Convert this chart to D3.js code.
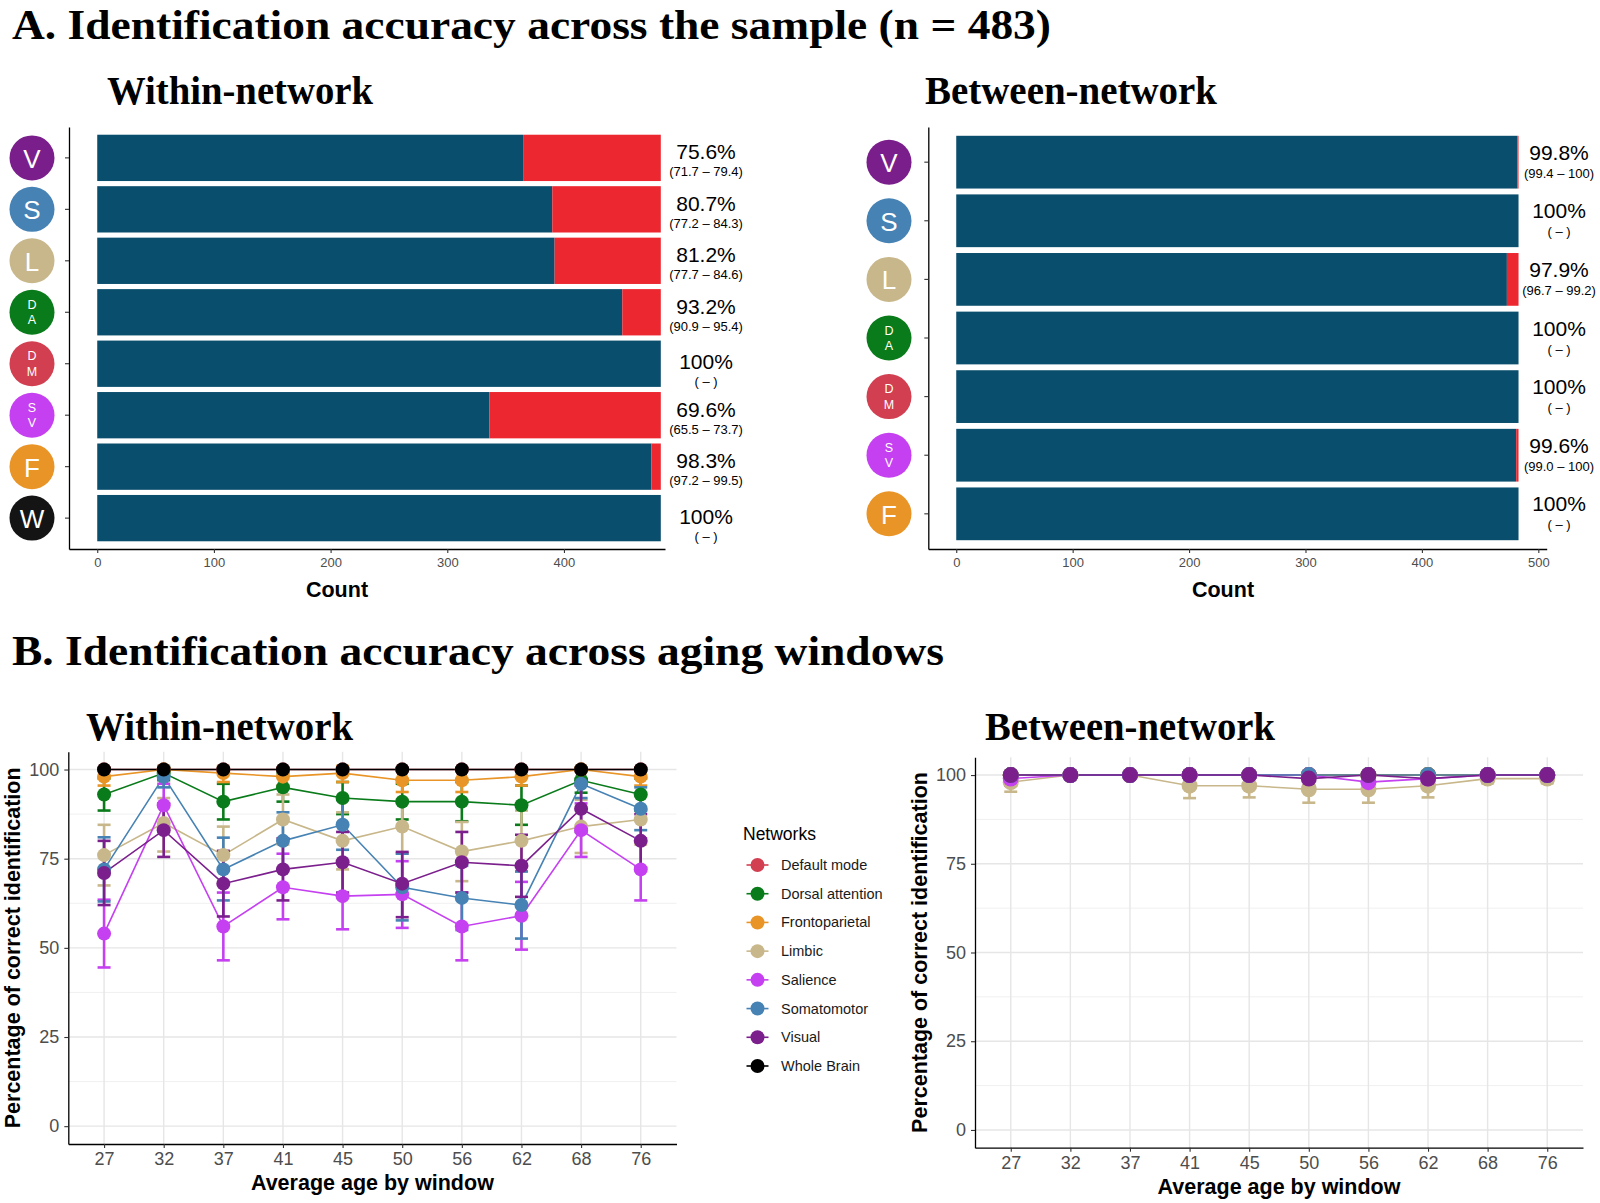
<!DOCTYPE html>
<html><head><meta charset="utf-8">
<script src="https://cdn.jsdelivr.net/npm/d3@7"></script>
<style>body{margin:0;background:#fff}svg{display:block}</style>
</head><body>
<svg id="c" width="1600" height="1203"></svg>
<script>
// ---------------- DATA ----------------
const sampleN = 483;
const withinCodes = ["V","S","L","DA","DM","SV","F","W"];
const withinCorrect = [365,390,392,450,483,336,475,483];
const withinPct = ["75.6%","80.7%","81.2%","93.2%","100%","69.6%","98.3%","100%"];
const withinCI = ["(71.7 – 79.4)","(77.2 – 84.3)","(77.7 – 84.6)","(90.9 – 95.4)","( – )","(65.5 – 73.7)","(97.2 – 99.5)","( – )"];
const betweenCodes = ["V","S","L","DA","DM","SV","F"];
const betweenCorrect = [482,483,473,483,483,481,483];
const betweenPct = ["99.8%","100%","97.9%","100%","100%","99.6%","100%"];
const betweenCI = ["(99.4 – 100)","( – )","(96.7 – 99.2)","( – )","( – )","(99.0 – 100)","( – )"];
const countTicksLeft = [0,100,200,300,400];
const countTicksRight = [0,100,200,300,400,500];

const ageWindows = ["27","32","37","41","45","50","56","62","68","76"];
const pctTicks = [0,25,50,75,100];
const pctMinor = [12.5,37.5,62.5,87.5];
const networkNames = ["Default mode","Dorsal attention","Frontoparietal","Limbic","Salience","Somatomotor","Visual","Whole Brain"];

// within-network, per window: mean, lower, upper
const wDefault   = [100,100,100,100,100,100,100,100,100,100];
const wDefaultLo = [100,100,100,100,100,100,100,100,100,100];
const wDefaultHi = [100,100,100,100,100,100,100,100,100,100];
const wDorsal    = [93,99,91,95,92,91,91,90,97,93];
const wDorsalLo  = [88.5,97,86,91,87.5,86,85.5,84.5,93.5,88.5];
const wDorsalHi  = [97.5,100.5,96,99,96.5,96,96.5,95.5,100.5,97.5];
const wFronto    = [98,100,99,98,99,97,97,98,100,98];
const wFrontoLo  = [95.5,100,96.5,95.5,96.5,93.7,93.7,95.5,100,95.5];
const wFrontoHi  = [100.5,100,101,100.5,101,100.3,100.3,100.5,100,100.5];
const wLimbic    = [76,85,76,86,80,84,77,80,84,86];
const wLimbicLo  = [67.5,77,68,79,72,76.5,68.7,71.5,76.6,79];
const wLimbicHi  = [84.5,92,84,93,88,91.5,85.3,88.5,91.5,93];
const wSalience  = [54,90,56,67,64.5,65,56,59,83,72];
const wSalienceLo= [44.5,84,46.5,58,55.2,55.6,46.5,49.5,75.5,63.3];
const wSalienceHi= [63.5,96,65.5,76.4,73.8,74.3,65.5,68.5,90.5,80.7];
const wSomato    = [72,98,72,80,84.5,67,64,62,96,89];
const wSomatoLo  = [63,95,63.3,72,77.5,57.7,55,52.6,92,83];
const wSomatoHi  = [81,101,80.9,88,91.5,76.4,73,71.4,100,95];
const wVisual    = [71,83,68,72,74,68,74,73,89,80];
const wVisualLo  = [62,75.5,58.8,63.3,65.5,58.6,65.5,64.3,82.5,72.5];
const wVisualHi  = [80,90.5,77.2,80.7,82.5,76.9,82.5,81.7,95.5,87.5];
const wWhole     = [100,100,100,100,100,100,100,100,100,100];
const wWholeLo   = [100,100,100,100,100,100,100,100,100,100];
const wWholeHi   = [100,100,100,100,100,100,100,100,100,100];

// between-network
const bDefault   = [100,100,100,100,100,100,100,100,100,100];
const bDorsal    = [100,100,100,100,100,100,100,100,100,100];
const bFronto    = [100,100,100,100,100,100,100,100,100,100];
const bLimbic    = [98,100,100,97,97,96,96,97,99,99];
const bLimbicLo  = [95.3,100,100,93.5,93.7,92.2,92.2,93.7,97.7,97.7];
const bLimbicHi  = [100.7,100,100,100.5,100.3,99.8,99.8,100.3,100.3,100.3];
const bSalience  = [99,100,100,100,100,100,98,99,100,100];
const bSalienceLo= [97,100,100,100,100,100,95.5,97,100,100];
const bSalienceHi= [101,100,100,100,100,100,100.5,101,100,100];
const bSomato    = [100,100,100,100,100,100,100,100,100,100];
const bVisual    = [100,100,100,100,100,99,100,99,100,100];
const bVisualLo  = [100,100,100,100,100,97,100,97,100,100];
const bVisualHi  = [100,100,100,100,100,101,100,101,100,100];

// ---------------- STYLE ----------------
const NAVY = "#0a4e6d", RED = "#ed2730";
const codeColor = {V:"#7a1e8c",S:"#4682b4",L:"#c8b78a",DA:"#0a7b1a",DM:"#d13f50",SV:"#c540f0",F:"#e99426",W:"#141414"};
const netColor = ["#d13f50","#0a7b1a","#e99426","#c8b78a","#c540f0","#4682b4","#7b1f8d","#000000"];
const SERIF = '"Liberation Serif","Times New Roman",Times,serif';
const SANS = '"Liberation Sans",Arial,Helvetica,sans-serif';

const svg = d3.select("#c").style("font-family",SANS);
svg.append("rect").attr("width",1600).attr("height",1203).attr("fill","#fff");

function title(txt, x, y, size, len){
  svg.append("text").attr("x",x).attr("y",y).style("font-family",SERIF).attr("font-weight","bold")
    .attr("font-size",size).attr("textLength",len).attr("lengthAdjust","spacingAndGlyphs").attr("fill","#000").text(txt);
}
title("A. Identification accuracy across the sample (n = 483)",12,38.5,43,1039);
title("Within-network",107,104,40,266);
title("Between-network",925,104,40,292);
title("B. Identification accuracy across aging windows",12,664.5,43,932);
title("Within-network",86,740,40,267);
title("Between-network",985,740,40,290);

function styleAxis(g, fs){
  g.attr("font-family",null);
  g.select(".domain").attr("stroke","#000").attr("stroke-width",1.3);
  g.selectAll(".tick line").attr("stroke","#333").attr("stroke-width",1.1);
  g.selectAll(".tick text").attr("fill","#4d4d4d").attr("font-size",fs).style("font-family",SANS);
}

function barPanel(cfg){
  const g = svg.append("g");
  const y = d3.scaleBand().domain(cfg.codes).range([127,549]).paddingInner(0.1).paddingOuter(0.15);
  const x = d3.scaleLinear().domain(cfg.xDomain).range(cfg.xRange);
  const bw = y.bandwidth();
  g.selectAll("rect.ok").data(cfg.codes).join("rect").attr("class","ok")
    .attr("x",x(0)).attr("y",d=>y(d)).attr("height",bw)
    .attr("width",(d,i)=>x(cfg.correct[i])-x(0)).attr("fill",NAVY);
  g.selectAll("rect.bad").data(cfg.codes).join("rect").attr("class","bad")
    .attr("x",(d,i)=>x(cfg.correct[i])).attr("y",d=>y(d)).attr("height",bw)
    .attr("width",(d,i)=>x(sampleN)-x(cfg.correct[i])).attr("fill",RED);
  const ax = g.append("g").attr("transform","translate(0,549)")
    .call(d3.axisBottom(x).tickValues(cfg.ticks).tickSize(4).tickSizeOuter(0).tickPadding(5));
  styleAxis(ax,13);
  const ay = g.append("g").attr("transform",`translate(${cfg.xRange[0]},0)`)
    .call(d3.axisLeft(y).tickSize(4).tickSizeOuter(0).tickFormat(""));
  styleAxis(ay,13);
  cfg.codes.forEach((c,i)=>{
    const cy = y(c)+bw/2;
    const bg = g.append("g").attr("transform",`translate(${cfg.circleX},${cy})`);
    bg.append("circle").attr("r",22.5).attr("fill",codeColor[c]);
    if(c.length===1){
      bg.append("text").attr("text-anchor","middle").attr("dominant-baseline","central").attr("y",1)
        .attr("fill","#fff").attr("font-size",26).text(c);
    } else {
      c.split("").forEach((ch,k)=>{
        bg.append("text").attr("text-anchor","middle").attr("dominant-baseline","central")
          .attr("y",k===0?-7.5:8).attr("fill","#fff").attr("font-size",12.5).text(ch);
      });
    }
    const dash = cfg.ci[i]==="( – )";
    const o = cfg.offsets(dash);
    g.append("text").attr("x",cfg.labelX).attr("y",cy+o[0]).attr("text-anchor","middle")
      .attr("dominant-baseline","central").attr("font-size",21).attr("fill","#000").text(cfg.pct[i]);
    g.append("text").attr("x",cfg.labelX).attr("y",cy+o[1]).attr("text-anchor","middle")
      .attr("dominant-baseline","central").attr("font-size",13).attr("fill","#000").text(cfg.ci[i]);
  });
  g.append("text").attr("x",cfg.countX).attr("y",590).attr("text-anchor","middle").attr("dominant-baseline","central")
    .attr("font-weight","bold").attr("font-size",21.5).attr("fill","#000").text("Count");
}

barPanel({codes:withinCodes, correct:withinCorrect, pct:withinPct, ci:withinCI,
  xDomain:[-24.2,486.6], xRange:[69,665], ticks:countTicksLeft, circleX:32, labelX:706, countX:337,
  offsets:d=>d?[-2,18]:[-6,14]});
barPanel({codes:betweenCodes, correct:betweenCorrect, pct:betweenPct, ci:betweenCI,
  xDomain:[-24,507.2], xRange:[928.3,1546.7], ticks:countTicksRight, circleX:889, labelX:1559, countX:1223,
  offsets:d=>[-10,11]});

function linePanel(cfg){
  const g = svg.append("g");
  const x = d3.scalePoint().domain(ageWindows).range(cfg.xRange).padding(0.6);
  const y = d3.scaleLinear().domain([-5,105]).range(cfg.yRange);
  const [x0,x1] = cfg.xRange, [yb,yt] = cfg.yRange;
  g.selectAll("line.mn").data(pctMinor).join("line").attr("x1",x0).attr("x2",x1)
    .attr("y1",d=>y(d)).attr("y2",d=>y(d)).attr("stroke","#f0f0f0").attr("stroke-width",1);
  g.selectAll("line.mj").data(pctTicks).join("line").attr("x1",x0).attr("x2",x1)
    .attr("y1",d=>y(d)).attr("y2",d=>y(d)).attr("stroke","#e6e6e6").attr("stroke-width",1.4);
  g.selectAll("line.vg").data(ageWindows).join("line").attr("x1",d=>x(d)).attr("x2",d=>x(d))
    .attr("y1",yt).attr("y2",yb).attr("stroke","#e6e6e6").attr("stroke-width",1.4);
  const ax = g.append("g").attr("transform",`translate(0,${yb})`)
    .call(d3.axisBottom(x).tickSize(4).tickSizeOuter(0).tickPadding(4.5));
  styleAxis(ax,18);
  const ay = g.append("g").attr("transform",`translate(${x0},0)`)
    .call(d3.axisLeft(y).tickValues(pctTicks).tickSize(4).tickSizeOuter(0).tickPadding(5));
  styleAxis(ay,18);
  const line = d3.line().x((d,i)=>x(ageWindows[i])).y(d=>y(d));
  cfg.series.forEach(s=>{
    g.append("path").attr("d",line(s.mean)).attr("fill","none").attr("stroke",s.color).attr("stroke-width",1.6);
  });
  cfg.series.forEach(s=>{
    s.mean.forEach((m,i)=>{
      const cx = x(ageWindows[i]);
      if(s.hi[i]-s.lo[i] <= 0) return;
      g.append("line").attr("x1",cx).attr("x2",cx).attr("y1",y(s.lo[i])).attr("y2",y(s.hi[i]))
        .attr("stroke",s.color).attr("stroke-width",2.6);
      [s.lo[i],s.hi[i]].forEach(v=>g.append("line").attr("x1",cx-6.5).attr("x2",cx+6.5)
        .attr("y1",y(v)).attr("y2",y(v)).attr("stroke",s.color).attr("stroke-width",2.6));
    });
  });
  cfg.series.forEach(s=>{
    g.selectAll(null).data(s.mean).join("circle").attr("cx",(d,i)=>x(ageWindows[i])).attr("cy",d=>y(d))
      .attr("r",cfg.r).attr("fill",s.color);
  });
  g.append("text").attr("x",(x0+x1)/2).attr("y",cfg.xTitleY).attr("text-anchor","middle").attr("dominant-baseline","central")
    .attr("font-weight","bold").attr("font-size",21.5).attr("fill","#000").text("Average age by window");
  g.append("text").attr("transform",`translate(${cfg.yTitleX},${(yb+yt)/2}) rotate(-90)`).attr("text-anchor","middle")
    .attr("dominant-baseline","central").attr("font-weight","bold").attr("font-size",21.5).attr("fill","#000")
    .text("Percentage of correct identification");
}

linePanel({xRange:[68.3,676.5], yRange:[1144,751.7], r:7, xTitleY:1183, yTitleX:13, series:[
  {color:netColor[0],mean:wDefault,lo:wDefaultLo,hi:wDefaultHi},
  {color:netColor[1],mean:wDorsal,lo:wDorsalLo,hi:wDorsalHi},
  {color:netColor[2],mean:wFronto,lo:wFrontoLo,hi:wFrontoHi},
  {color:netColor[3],mean:wLimbic,lo:wLimbicLo,hi:wLimbicHi},
  {color:netColor[4],mean:wSalience,lo:wSalienceLo,hi:wSalienceHi},
  {color:netColor[5],mean:wSomato,lo:wSomatoLo,hi:wSomatoHi},
  {color:netColor[6],mean:wVisual,lo:wVisualLo,hi:wVisualHi},
  {color:netColor[7],mean:wWhole,lo:wWholeLo,hi:wWholeHi}]});

linePanel({xRange:[975,1583], yRange:[1147.7,757.3], r:8, xTitleY:1187, yTitleX:920, series:[
  {color:netColor[0],mean:bDefault,lo:bDefault,hi:bDefault},
  {color:netColor[1],mean:bDorsal,lo:bDorsal,hi:bDorsal},
  {color:netColor[2],mean:bFronto,lo:bFronto,hi:bFronto},
  {color:netColor[3],mean:bLimbic,lo:bLimbicLo,hi:bLimbicHi},
  {color:netColor[4],mean:bSalience,lo:bSalienceLo,hi:bSalienceHi},
  {color:netColor[5],mean:bSomato,lo:bSomato,hi:bSomato},
  {color:netColor[6],mean:bVisual,lo:bVisualLo,hi:bVisualHi}]});

// legend
const lg = svg.append("g");
lg.append("text").attr("x",743).attr("y",834).attr("dominant-baseline","central").attr("font-size",17.5).attr("fill","#000").text("Networks");
const legY = d3.scalePoint().domain(networkNames).range([865,1066]);
networkNames.forEach((n,i)=>{
  const yy = legY(n);
  lg.append("line").attr("x1",746.5).attr("x2",768.5).attr("y1",yy).attr("y2",yy).attr("stroke",netColor[i]).attr("stroke-width",1.6);
  lg.append("circle").attr("cx",757.5).attr("cy",yy).attr("r",7).attr("fill",netColor[i]);
  lg.append("text").attr("x",781).attr("y",yy).attr("dominant-baseline","central").attr("font-size",14.5).attr("fill","#1a1a1a").text(n);
});
</script>
</body></html>
